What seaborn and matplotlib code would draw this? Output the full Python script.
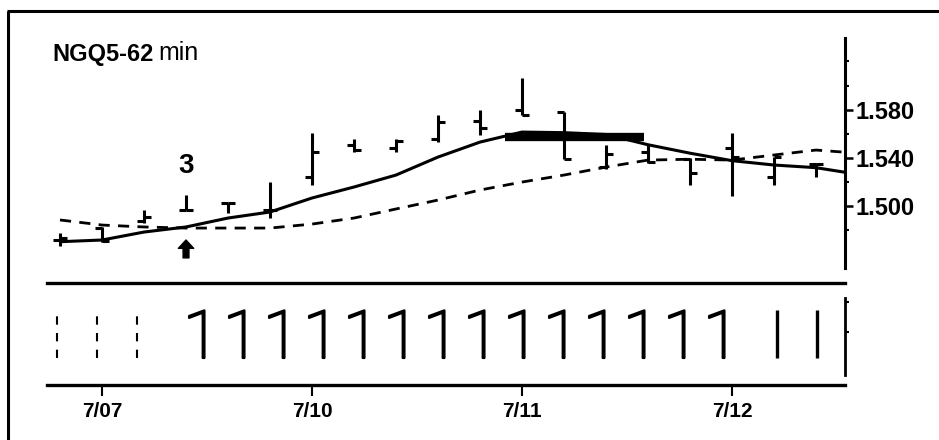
import pandas as pd
import matplotlib
matplotlib.use("Agg")
import matplotlib.pyplot as plt
import matplotlib.patheffects as pe
from matplotlib.lines import Line2D
import seaborn as sns

# NGQ5, 62 minute bars (open / high / low / close)
opens  = [1.472, 1.482, 1.488, 1.497, 1.5025, 1.497, 1.5243, 1.5508, 1.5483, 1.5557,
          1.5706, 1.5797, 1.578, 1.5325, 1.545, 1.539, 1.548, 1.524, 1.535]
highs  = [1.478, 1.4829, 1.4969, 1.5094, 1.5027, 1.5201, 1.5607, 1.5557, 1.5557, 1.5756,
          1.5797, 1.6062, 1.5781, 1.5508, 1.5508, 1.540, 1.5607, 1.5408, 1.5359]
lows   = [1.467, 1.4704, 1.4862, 1.4969, 1.4944, 1.4903, 1.5176, 1.545, 1.545, 1.5532,
          1.559, 1.5756, 1.5392, 1.5309, 1.5359, 1.5176, 1.5085, 1.5176, 1.5243]
closes = [1.474, 1.471, 1.491, 1.497, 1.5025, 1.497, 1.545, 1.5466, 1.5541, 1.5698,
          1.5648, 1.5756, 1.539, 1.5433, 1.537, 1.5276, 1.541, 1.541, 1.535]

# moving averages (one more value than bars, line runs up to the axis)
ma_fast = [1.4707, 1.4721, 1.4787, 1.4829, 1.4903, 1.4953, 1.5069, 1.5160, 1.5259, 1.5408,
           1.5532, 1.5615, 1.5610, 1.5595, 1.5510, 1.5440, 1.5378, 1.5342, 1.5320, 1.5265]
ma_slow = [1.4887, 1.4845, 1.4829, 1.4820, 1.4820, 1.4820, 1.4853, 1.4903, 1.4978, 1.5052,
           1.5135, 1.5201, 1.5259, 1.5325, 1.5383, 1.5390, 1.5383, 1.5425, 1.5466, 1.5440]

band_level = 1.557
band_from, band_to = 10.6, 13.9

mark_bar = 3
mark_label = "3"

price_ticks = [1.500, 1.540, 1.580]
price_minor = [1.48, 1.52, 1.56, 1.60, 1.62]

date_ticks = [1, 6, 11, 16]
date_labels = ["7/07", "7/10", "7/11", "7/12"]

# lower study panel, one entry per slot
signal = ["dash"] * 3 + ["1"] * 14 + [""] + ["bar"] * 2

sns.set_style("white", {"axes.edgecolor": "black", "xtick.color": "black",
                        "ytick.color": "black", "text.color": "black"})
plt.rcParams["font.family"] = ["Liberation Sans", "DejaVu Sans"]
plt.rcParams["lines.solid_capstyle"] = "butt"

W, H = 939, 440
fig = plt.figure(figsize=(W / 100, H / 100), dpi=100)

bars = pd.DataFrame({"open": opens, "high": highs, "low": lows, "close": closes})
bars["bar"] = range(len(bars))
ma = pd.DataFrame({"bar": range(len(ma_fast)), "fast": ma_fast, "slow": ma_slow})

# ---- price panel
ax = fig.add_axes([47 / W, (H - 283) / H, 798 / W, 245 / H])
sns.lineplot(data=ma, x="bar", y="fast", ax=ax, color="black", lw=2.2)
sns.lineplot(data=ma, x="bar", y="slow", ax=ax, color="black", lw=2.0, linestyle=(0, (4, 3)))

ax.vlines(bars["bar"], bars["low"], bars["high"], color="black", lw=2.2)
ax.hlines(bars["open"], bars["bar"] - 0.17, bars["bar"], color="black", lw=2.2)
ax.hlines(bars["close"], bars["bar"], bars["bar"] + 0.17, color="black", lw=2.2)
ax.hlines(band_level, band_from, band_to, color="black", lw=6)

ax.text(mark_bar, 1.5334, mark_label, ha="center", va="center", fontsize=20, fontweight="bold")
ax.annotate("", xy=(mark_bar, 1.4721), xytext=(mark_bar, 1.4573),
            arrowprops=dict(facecolor="black", edgecolor="black", width=4.2,
                            headwidth=11, headlength=6, shrink=0))

ax.set_xlim(-0.31, 18.69)
ax.set_ylim(1.4365, 1.6394)
ax.set(xlabel="", ylabel="")
ax.set_xticks([])
ax.yaxis.tick_right()
ax.set_yticks(price_ticks, [f"{p:.3f}" for p in price_ticks], fontweight="bold", fontsize=17)
ax.set_yticks(price_minor, minor=True)
ax.tick_params(axis="y", which="major", direction="out", length=6, width=1.8, pad=1.5)
ax.tick_params(axis="y", which="minor", direction="out", length=3, width=1.5)
for side in ["left", "top"]:
    ax.spines[side].set_visible(False)
ax.spines["right"].set_bounds(1.4489, 1.6394)
ax.spines["right"].set_linewidth(2.2)
ax.spines["bottom"].set_linewidth(2.4)

# ---- study panel
axl = fig.add_axes([47 / W, 55 / H, 798 / W, 102 / H])
axl.set_xlim(-0.25, 19.7)
axl.set_ylim(0, 1)
thicken = [pe.withStroke(linewidth=1.6, foreground="black")]
for i, s in enumerate(signal):
    if s == "dash":
        axl.vlines(i, 0.265, 0.716, color="black", lw=1.5, linestyles=(0, (4, 4)))
    elif s == "bar":
        axl.vlines(i, 0.265, 0.735, color="black", lw=2.4)
    elif s:
        axl.text(i + 0.15, 0.265, s, ha="left", va="baseline", fontsize=48,
                 family="Roboto", weight="light", path_effects=thicken)
axl.set_xticks([])
axl.yaxis.tick_right()
axl.set_yticks([0.52, 0.814], ["", ""])
axl.tick_params(axis="y", direction="out", length=3, width=1.5)
for side in ["left", "top"]:
    axl.spines[side].set_visible(False)
axl.spines["right"].set_bounds(0.098, 0.853)
axl.spines["right"].set_linewidth(2.0)
axl.spines["bottom"].set_linewidth(2.4)
axl.patch.set_visible(False)

# ---- date axis under the study panel
axd = fig.add_axes([47 / W, 55 / H, 798 / W, 0.001])
axd.set_xlim(ax.get_xlim())
axd.set_yticks([])
axd.set_xticks(date_ticks, date_labels, fontweight="bold", fontsize=15)
axd.tick_params(axis="x", bottom=True, direction="out", length=8, width=1.5, pad=4)
for sp in axd.spines.values():
    sp.set_visible(False)
axd.patch.set_visible(False)

# title and frame
fig.text(52 / W, 1 - 55 / H, "NGQ5-62", ha="left", va="center", fontsize=17, fontweight="bold")
fig.text(158 / W, 1 - 53 / H, "min", ha="left", va="center", fontsize=18)
fig.add_artist(Line2D([7 / W, 1], [1 - 11 / H] * 2, color="black", lw=2.2, transform=fig.transFigure))
fig.add_artist(Line2D([8 / W] * 2, [0, 1 - 11 / H], color="black", lw=2.2, transform=fig.transFigure))

fig.savefig("out.png", dpi=100)
